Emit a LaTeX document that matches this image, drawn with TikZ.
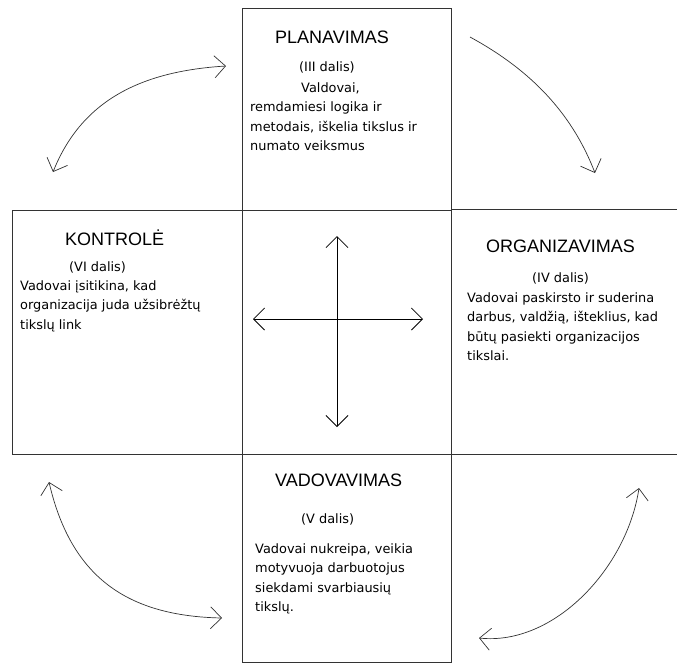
\documentclass[tikz,border=0pt]{standalone}
\usepackage{fontspec}
\setmainfont{DejaVu Sans}
\newfontfamily\headfont{Liberation Sans}
\usepackage{tikz}
\usetikzlibrary{arrows.meta}
\tikzset{
  >={Straight Barb[length=11pt,width=22pt]},
  cell/.style={draw=black!80,line width=0.9pt,inner sep=0pt},
  edge/.style={draw=black!80,line width=0.9pt},
  heading/.style={font=\headfont\fontsize{18}{22}\selectfont,inner sep=0pt,anchor=base west},
  partlabel/.style={font=\fontsize{12.9}{19.5}\selectfont,inner sep=0pt,anchor=base west},
  bodytext/.style={font=\fontsize{12.9}{19.5}\selectfont,align=left,inner sep=0pt,anchor=north west},
  turn/.style={line width=0.7pt,draw=black!80},
  crossarrow/.style={<->,line width=0.8pt}
}
\begin{document}
\begin{tikzpicture}[x=1pt,y=-1pt]
  \useasboundingbox (0,0) rectangle (677,665);
  % the five fields
  \node[cell,minimum width=209pt,minimum height=202pt] (plan) at (346.5,109) {};
  \node[cell,minimum width=209pt,minimum height=244pt] (mid) at (346.5,332) {};
  \node[cell,minimum width=230pt,minimum height=244pt] (ctrl) at (127,332) {};
  \node[cell,minimum width=209pt,minimum height=208pt] (lead) at (346.5,558) {};
  \node[inner sep=0pt,minimum width=239pt,minimum height=244pt] (org) at (570.5,332) {};
  \draw[edge] (org.north west) -- (org.north east);
  \draw[edge] (org.south west) -- (org.south east);

  % planavimas
  \node[heading] (plantitle) at (275,43) {PLANAVIMAS};
  \node[partlabel] (planpart) at (299,71) {(III dalis)};
  \node[bodytext] (plantext) at (250,82.4) {\hspace*{51pt}Valdovai,\\remdamiesi logika ir\\metodais, iškelia tikslus ir\\numato veiksmus};

  % kontrole
  \node[heading] (ctrltitle) at (65,245) {KONTROLĖ};
  \node[partlabel] (ctrlpart) at (69,271) {(VI dalis)};
  \node[bodytext] (ctrltext) at (20,280.4) {Vadovai įsitikina, kad\\organizacija juda užsibrėžtų\\tikslų link};

  % organizavimas
  \node[heading] (orgtitle) at (486,252) {ORGANIZAVIMAS};
  \node[partlabel] (orgpart) at (532,282) {(IV dalis)};
  \node[bodytext] (orgtext) at (467,292.4) {Vadovai paskirsto ir suderina\\darbus, valdžią, išteklius, kad\\būtų pasiekti organizacijos\\tikslai.};

  % vadovavimas
  \node[heading] (leadtitle) at (275,486) {VADOVAVIMAS};
  \node[partlabel] (leadpart) at (301,523) {(V dalis)};
  \node[bodytext] (leadtext) at (255,543.4) {Vadovai nukreipa, veikia\\motyvuoja darbuotojus\\siekdami svarbiausių\\tikslų.};

  % cross in the middle
  \coordinate (midup) at (337,236);
  \coordinate (middown) at (337,427);
  \coordinate (midleft) at (253,319);
  \coordinate (midright) at (423,319);
  \draw[crossarrow] (midup) -- (middown);
  \draw[crossarrow] (midleft) -- (midright);

  % curved arrows round the cycle
  \coordinate (tlA) at (226,66);
  \coordinate (tlB) at (53,172);
  \coordinate (trA) at (470,37);
  \coordinate (trB) at (595,173);
  \coordinate (blA) at (49,482);
  \coordinate (blB) at (222,618);
  \coordinate (brA) at (639,488);
  \coordinate (brB) at (479,638);
  \draw[turn,<->] (tlA) .. controls +(-80,5) and +(30,-75) .. (tlB);
  \draw[turn,->] (trA) .. controls +(55,30) and +(-25,-65) .. (trB);
  \draw[turn,<->] (blA) .. controls +(22,95) and +(-95,-2) .. (blB);
  \draw[turn,<->] (brA) .. controls +(-12,80) and +(75,8) .. (brB);
\end{tikzpicture}
\end{document}
